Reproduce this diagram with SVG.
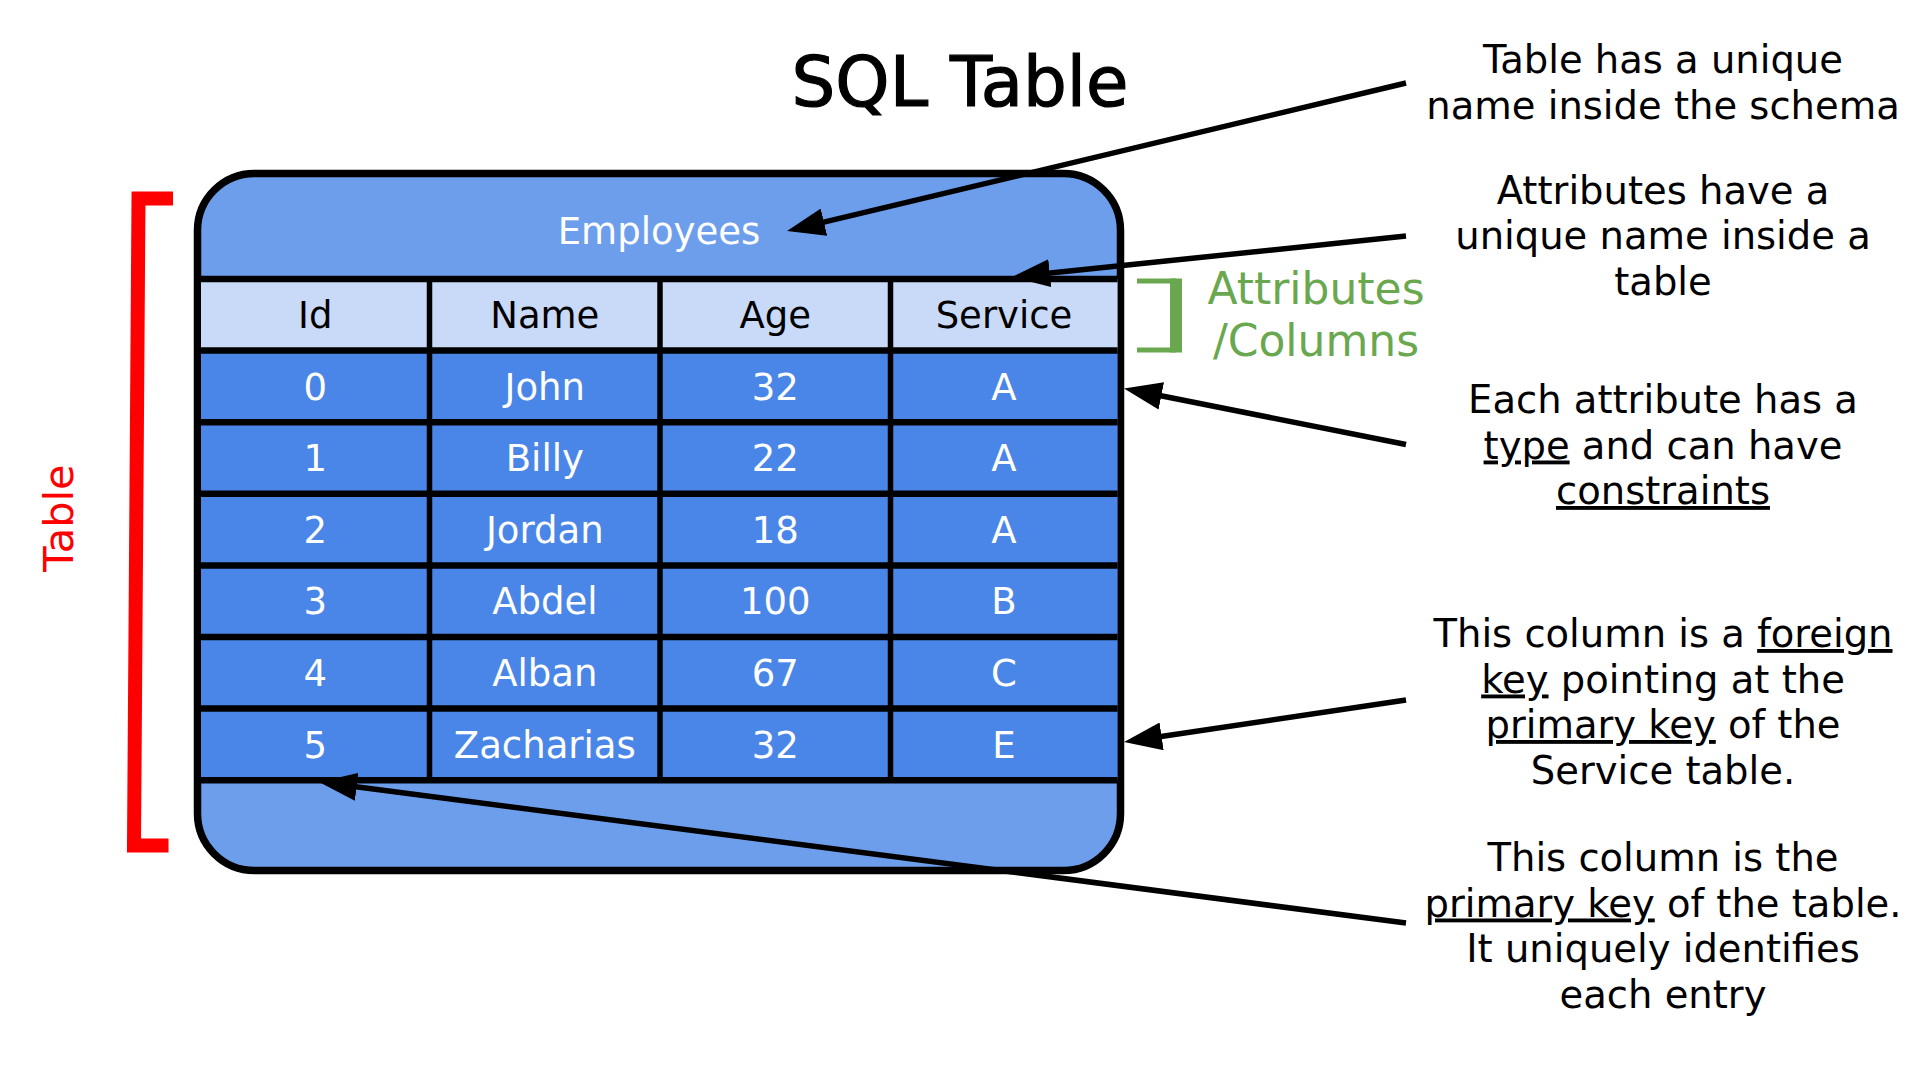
<svg xmlns="http://www.w3.org/2000/svg" width="1920" height="1080" viewBox="0 0 1920 1080">
  <style>
    text { font-family: "DejaVu Sans", "Noto Sans", sans-serif; }
    .title { font-size: 69px; fill: #000; stroke: #000; stroke-width: 1.2; text-anchor: middle; }
    .cell { font-size: 37px; text-anchor: middle; }
    .hdr { fill: #000; }
    .dat { fill: #fff; }
    .note { font-size: 38.5px; fill: #000; text-anchor: middle; }
    .u { text-decoration: underline; }
    .grid { stroke: #000; fill: none; }
    .conn { stroke: #000; stroke-width: 5.5; fill: none; marker-end: url(#ah); }
  </style>
  <defs>
    <marker id="ah" markerUnits="userSpaceOnUse" markerWidth="38" markerHeight="28" viewBox="0 0 38 28" refX="26" refY="14" orient="auto">
      <path d="M0,0 L38,14 L0,28 Z" fill="#000"/>
    </marker>
  </defs>
  <rect width="1920" height="1080" fill="#fff"/>

  <text class="title" x="960" y="106">SQL Table</text>

  <g id="employees-table">
    <rect x="197.5" y="173.5" width="923" height="697" rx="57" ry="57" fill="#6D9EEB" stroke="#000" stroke-width="7.5"/>
    <rect x="201" y="279" width="916.6" height="71.6" fill="#C9DAF8"/>
    <rect x="201" y="350.6" width="916.6" height="429.6" fill="#4A86E8"/>
    <g class="grid" stroke-width="6.5">
      <line x1="201" y1="279" x2="1117.6" y2="279"/>
      <line x1="201" y1="350.6" x2="1117.6" y2="350.6"/>
      <line x1="201" y1="422.2" x2="1117.6" y2="422.2"/>
      <line x1="201" y1="493.8" x2="1117.6" y2="493.8"/>
      <line x1="201" y1="565.4" x2="1117.6" y2="565.4"/>
      <line x1="201" y1="637" x2="1117.6" y2="637"/>
      <line x1="201" y1="708.6" x2="1117.6" y2="708.6"/>
      <line x1="201" y1="780.2" x2="1117.6" y2="780.2"/>
    </g>
    <g class="grid" stroke-width="5.5">
      <line x1="429.5" y1="279" x2="429.5" y2="780.2"/>
      <line x1="660" y1="279" x2="660" y2="780.2"/>
      <line x1="890.5" y1="279" x2="890.5" y2="780.2"/>
    </g>
    <text class="cell dat" x="659" y="244">Employees</text>
    <g>
      <text class="cell hdr" x="315.2" y="328">Id</text>
      <text class="cell hdr" x="544.8" y="328">Name</text>
      <text class="cell hdr" x="775.2" y="328">Age</text>
      <text class="cell hdr" x="1004" y="328">Service</text>
    </g>
    <g>
      <text class="cell dat" x="315.2" y="399.5">0</text>
      <text class="cell dat" x="544.8" y="399.5">John</text>
      <text class="cell dat" x="775.2" y="399.5">32</text>
      <text class="cell dat" x="1004" y="399.5">A</text>

      <text class="cell dat" x="315.2" y="471.1">1</text>
      <text class="cell dat" x="544.8" y="471.1">Billy</text>
      <text class="cell dat" x="775.2" y="471.1">22</text>
      <text class="cell dat" x="1004" y="471.1">A</text>

      <text class="cell dat" x="315.2" y="542.7">2</text>
      <text class="cell dat" x="544.8" y="542.7">Jordan</text>
      <text class="cell dat" x="775.2" y="542.7">18</text>
      <text class="cell dat" x="1004" y="542.7">A</text>

      <text class="cell dat" x="315.2" y="614.3">3</text>
      <text class="cell dat" x="544.8" y="614.3">Abdel</text>
      <text class="cell dat" x="775.2" y="614.3">100</text>
      <text class="cell dat" x="1004" y="614.3">B</text>

      <text class="cell dat" x="315.2" y="685.9">4</text>
      <text class="cell dat" x="544.8" y="685.9">Alban</text>
      <text class="cell dat" x="775.2" y="685.9">67</text>
      <text class="cell dat" x="1004" y="685.9">C</text>

      <text class="cell dat" x="315.2" y="757.5">5</text>
      <text class="cell dat" x="544.8" y="757.5">Zacharias</text>
      <text class="cell dat" x="775.2" y="757.5">32</text>
      <text class="cell dat" x="1004" y="757.5">E</text>
    </g>
  </g>

  <g id="table-bracket">
    <polyline points="173,198.5 138.5,198.5 134,845.5 168.5,845.5" fill="none" stroke="#FF0000" stroke-width="14" stroke-linejoin="miter"/>
    <text x="73" y="518" transform="rotate(-90 73 518)" font-size="41.5" fill="#FF0000" text-anchor="middle">Table</text>
  </g>

  <g id="attributes-bracket">
    <line x1="1137" y1="281" x2="1176" y2="281" stroke="#6AA84F" stroke-width="5"/>
    <line x1="1137" y1="350" x2="1176" y2="350" stroke="#6AA84F" stroke-width="5"/>
    <line x1="1176" y1="278.5" x2="1176" y2="352.5" stroke="#6AA84F" stroke-width="12"/>
    <text x="1316" y="304" font-size="44" fill="#6AA84F" text-anchor="middle">Attributes</text>
    <text x="1316" y="356" font-size="44" fill="#6AA84F" text-anchor="middle">/Columns</text>
  </g>

  <g id="note-name">
    <text class="note" x="1663" y="73">Table has a unique</text>
    <text class="note" x="1663" y="118.5">name inside the schema</text>
  </g>
  <g id="note-attributes">
    <text class="note" x="1663" y="204">Attributes have a</text>
    <text class="note" x="1663" y="249">unique name inside a</text>
    <text class="note" x="1663" y="294.5">table</text>
  </g>
  <g id="note-type">
    <text class="note" x="1663" y="413">Each attribute has a</text>
    <text class="note" x="1663" y="458.5"><tspan class="u">type</tspan> and can have</text>
    <text class="note" x="1663" y="504"><tspan class="u">constraints</tspan></text>
  </g>
  <g id="note-foreign">
    <text class="note" x="1663" y="647">This column is a <tspan class="u">foreign</tspan></text>
    <text class="note" x="1663" y="692.5"><tspan class="u">key</tspan> pointing at the</text>
    <text class="note" x="1663" y="738"><tspan class="u">primary key</tspan> of the</text>
    <text class="note" x="1663" y="783.5">Service table.</text>
  </g>
  <g id="note-primary">
    <text class="note" x="1663" y="871">This column is the</text>
    <text class="note" x="1663" y="916.5"><tspan class="u">primary key</tspan> of the table.</text>
    <text class="note" x="1663" y="962">It uniquely identifies</text>
    <text class="note" x="1663" y="1007.5">each entry</text>
  </g>

  <g id="connectors">
    <line class="conn" x1="1406" y1="83" x2="798.7" y2="228.2"/>
    <line class="conn" x1="1406" y1="236" x2="1023.9" y2="275.8"/>
    <line class="conn" x1="1406" y1="444.5" x2="1135.8" y2="390.8"/>
    <line class="conn" x1="1406" y1="700" x2="1135.9" y2="740.2"/>
    <line class="conn" x1="1406" y1="923" x2="330.9" y2="783.5"/>
  </g>
</svg>
